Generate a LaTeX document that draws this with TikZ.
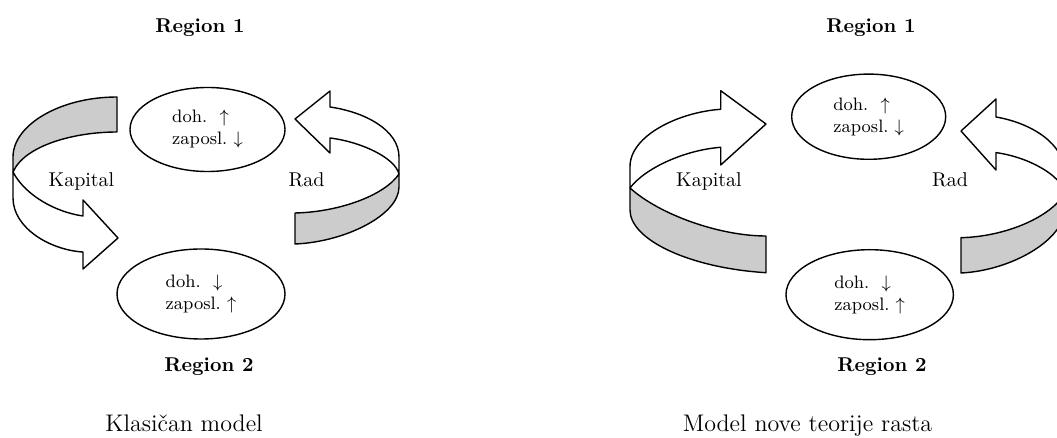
\documentclass[tikz,border=0pt]{standalone}
\usepackage{amsmath}
\usepackage{tikz}
\usetikzlibrary{shapes.geometric}

\begin{document}
\begin{tikzpicture}[x=0.5pt,y=-0.5pt,line width=0.7pt,
    ribbon/.style={draw,fill=white,line join=round},
    ribbonside/.style={draw,fill=black!20,line join=round}]
\useasboundingbox (0,0) rectangle (1057,438);
\clip (0,0) rectangle (1057,438);

% regions
\begin{scope}[every node/.style={ellipse,draw,align=left,font=\small,inner sep=0pt}]
    \node[minimum width=77.5pt,minimum height=42pt] (topl) at (207.5,129.5){doh.~~$\uparrow$\\zaposl.~$\downarrow$};
    \node[minimum width=84pt,minimum height=45pt] (botl) at (201,294){doh.~~$\downarrow$\\zaposl.~$\uparrow$};
    \node[minimum width=77pt,minimum height=42.6pt] (topr) at (868.7,116.7){doh.~~$\uparrow$\\zaposl.~$\downarrow$};
    \node[minimum width=83.7pt,minimum height=45pt] (botr) at (869.7,294.7){doh.~~$\downarrow$\\zaposl.~$\uparrow$};
\end{scope}

% left: Kapital
\draw[ribbonside] (117,97) .. controls (60,97) and (13,125) .. (13,157) -- (13,172) .. controls (25,145) and (75,132) .. (117,132) -- cycle;
\draw[ribbon] (13,172) .. controls (25,195) and (55,212) .. (83,216) -- (83,200) -- (118,238) -- (83,269) -- (83,252) .. controls (50,250) and (13,228) .. (13,198) -- cycle;
% left: Rad
\draw[ribbon] (295,119) -- (330,91) -- (330,107) .. controls (365,112) and (399,130) .. (399,157) -- (399,174) .. controls (395,158) and (362,142) .. (330,138) -- (330,153) -- cycle;
\draw[ribbonside] (399,174) .. controls (385,195) and (340,212) .. (295,213) -- (295,244) .. controls (345,242) and (399,215) .. (399,187) -- cycle;

% right: Kapital
\draw[ribbon] (766,124) -- (720.7,90.7) -- (720.7,109.3) .. controls (680,112) and (630,135) .. (630,166.7) -- (630,188) .. controls (645,168) and (685,150) .. (720.7,147.3) -- (720.7,165) -- cycle;
\draw[ribbonside] (630,188) .. controls (660,215) and (720,236) .. (766,236) -- (766,272.7) .. controls (690,268) and (630,240) .. (630,210) -- cycle;
% right: Rad
\draw[ribbon] (961,131) -- (996,99) -- (996,117) .. controls (1031,123) and (1065,143.5) .. (1065,174) -- (1065,193) .. controls (1061,175) and (1028,157) .. (996,152.6) -- (996,170) -- cycle;
\draw[ribbonside] (1065,193) .. controls (1051,217) and (1006,236.6) .. (961,237.7) -- (961,273) .. controls (1011,270.6) and (1065,240) .. (1065,208) -- cycle;

% labels
\begin{scope}[every node/.style={anchor=base}]
    \node[font=\bfseries] (reg1l) at (200,33) {Region 1};
    \node[font=\bfseries] (reg2l) at (209,371.5) {Region 2};
    \node (kapl) at (81.5,187) {Kapital};
    \node (radl) at (306.5,187) {Rad};
    \node[font=\large] (capl) at (184,432) {Klasičan model};

    \node[font=\bfseries] (reg1r) at (871,33) {Region 1};
    \node[font=\bfseries] (reg2r) at (882,371.5) {Region 2};
    \node (kapr) at (709,187) {Kapital};
    \node (radr) at (950,187) {Rad};
    \node[font=\large] (capr) at (807.5,432) {Model nove teorije rasta};
\end{scope}

\end{tikzpicture}
\end{document}
